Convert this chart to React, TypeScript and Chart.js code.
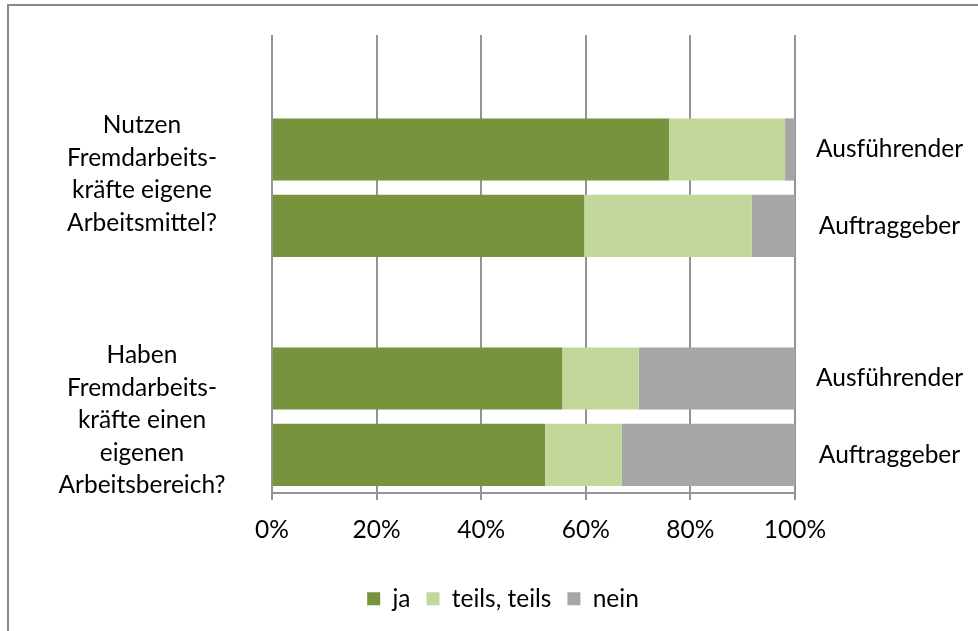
import React, { useEffect, useRef } from "react";
import { Chart, registerables } from "chart.js";

Chart.register(...registerables);

// Categories (rows, top to bottom); empty rows separate the two question groups
const ROW_LABELS = ["", "Ausführender", "Auftraggeber", "", "Ausführender", "Auftraggeber"];

// Series values in percent (null = spacer row)
const JA = [null, 75.9, 59.7, null, 55.5, 52.2];
const TEILS = [null, 22.2, 32.0, null, 14.6, 14.7];
const NEIN = [null, 1.9, 8.3, null, 29.9, 33.1];

const SERIES_NAMES = ["ja", "teils, teils", "nein"];
const SERIES_COLORS = ["#77933C", "#C4D79B", "#A6A6A6"];

// Question group labels (left side) and their row positions (in row units of the category axis)
const GROUP_LABELS = [
  ["Nutzen", "Fremdarbeits-", "kräfte eigene", "Arbeitsmittel?"],
  ["Haben", "Fremdarbeits-", "kräfte einen", "eigenen", "Arbeitsbereich?"],
];
const GROUP_POSITIONS = [1.32, 4.55];

const X_TICKS = [0, 20, 40, 60, 80, 100];

const FONT = "Lato, 'Open Sans', sans-serif";
const FONT_SIZE = 24.5;
const LINE_HEIGHT = 32.5;

const noPad = (scale: any) => {
  scale.paddingTop = 0;
  scale.paddingBottom = 0;
};

const groupLabelPlugin = {
  id: "groupLabels",
  afterDraw(chart: any) {
    const { ctx, chartArea, scales } = chart;
    const yScale = scales.y;
    ctx.save();
    ctx.font = `${FONT_SIZE}px ${FONT}`;
    ctx.fillStyle = "#000";
    ctx.textAlign = "center";
    ctx.textBaseline = "middle";
    const cx = chartArea.left - 130;
    GROUP_LABELS.forEach((lines, gi) => {
      const cy = yScale.getPixelForValue(GROUP_POSITIONS[gi]);
      const start = cy - ((lines.length - 1) * LINE_HEIGHT) / 2;
      lines.forEach((line, li) => {
        ctx.fillText(line, cx, start + li * LINE_HEIGHT);
      });
    });
    ctx.restore();
  },
};

export default function App() {
  const canvasRef = useRef<HTMLCanvasElement | null>(null);

  useEffect(() => {
    const canvas = canvasRef.current;
    if (!canvas) return;
    Chart.defaults.font.family = FONT;
    Chart.defaults.font.size = FONT_SIZE;
    Chart.defaults.color = "#000";

    const chart = new Chart(canvas, {
      type: "bar",
      data: {
        labels: ROW_LABELS,
        datasets: [JA, TEILS, NEIN].map((d, i) => ({
          label: SERIES_NAMES[i],
          data: d,
          backgroundColor: SERIES_COLORS[i],
          borderWidth: 0,
          categoryPercentage: 1,
          barPercentage: 0.815,
          yAxisID: "y",
        })),
      },
      options: {
        indexAxis: "y",
        animation: false,
        responsive: true,
        maintainAspectRatio: false,
        layout: { padding: { top: 35, left: 28, right: 0, bottom: 10 } },
        plugins: {
          tooltip: { enabled: false },
          legend: {
            position: "bottom",
            labels: {
              boxWidth: 13,
              boxHeight: 13,
              padding: 16,
              font: { family: FONT, size: FONT_SIZE },
            },
          },
        },
        scales: {
          x: {
            type: "linear",
            min: 0,
            max: 100,
            stacked: true,
            afterBuildTicks: (scale: any) => {
              scale.ticks = X_TICKS.map((v) => ({ value: v }));
            },
            afterFit: (scale: any) => {
              scale.height = 77.5;
              scale.paddingLeft = 0;
              scale.paddingRight = 0;
            },
            grid: {
              color: "#939393",
              lineWidth: 2,
              tickLength: 7,
              drawTicks: true,
            },
            border: { display: true, color: "#939393", width: 2 },
            ticks: {
              padding: 15,
              callback: (v: any) => v + "%",
              font: { family: FONT, size: FONT_SIZE },
              maxRotation: 0,
            },
          },
          y: {
            type: "category",
            position: "right",
            stacked: true,
            afterFit: (scale: any) => {
              scale.width = 183;
              noPad(scale);
            },
            grid: { display: false, drawTicks: false },
            border: { display: false },
            ticks: {
              crossAlign: "center",
              padding: 21,
              font: { family: FONT, size: FONT_SIZE },
            },
          },
          groups: {
            type: "linear",
            position: "left",
            min: 0,
            max: 1,
            afterFit: (scale: any) => {
              scale.width = 244;
              noPad(scale);
            },
            grid: { display: false, drawTicks: false },
            border: { display: false },
            ticks: { display: false },
          },
        },
      },
      plugins: [groupLabelPlugin],
    } as any);

    return () => chart.destroy();
  }, []);

  return (
    <div
      style={{
        position: "fixed",
        left: 0,
        top: 0,
        width: 978,
        height: 631,
        overflow: "hidden",
        background: "#fff",
      }}
    >
      <div
        style={{
          position: "absolute",
          left: 7,
          top: 4,
          right: -20,
          bottom: -20,
          borderLeft: "2px solid #878787",
          borderTop: "2px solid #878787",
        }}
      />
      <div style={{ position: "absolute", left: 0, top: 0, width: 978, height: 631 }}>
        <canvas ref={canvasRef} />
      </div>
    </div>
  );
}
